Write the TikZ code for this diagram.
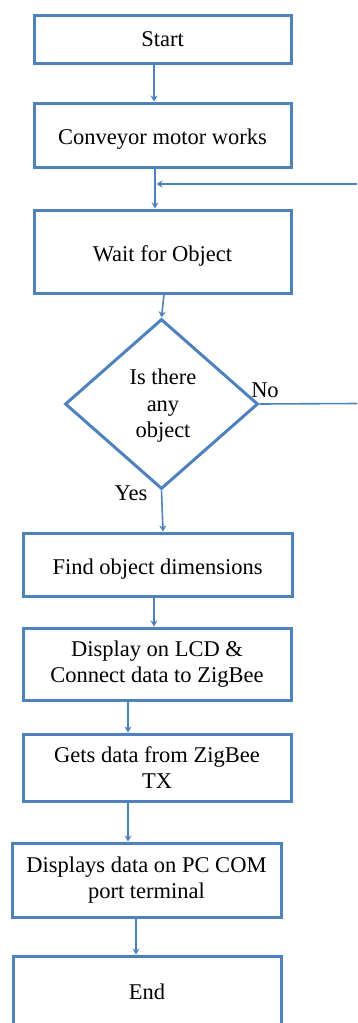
\documentclass[tikz,border=0pt]{standalone}
\usepackage{fontspec}
\setmainfont{Liberation Serif}
\usetikzlibrary{arrows.meta,shapes.geometric}
\definecolor{flowblue}{RGB}{79,129,189}
\begin{document}
\begin{tikzpicture}[x=1pt,y=-1pt,
  every node/.style={font=\fontsize{22.5}{26.5}\selectfont, text=black},
  stepbox/.style={draw=flowblue, line width=3pt, fill=white, align=center,
    inner sep=0pt, minimum width=#1},
  stepbox/.default=257pt,
  lowtext/.style={text height=20pt, text depth=1pt},
  decision/.style={draw=flowblue, line width=3pt, diamond,
    inner sep=0pt, minimum width=193pt, minimum height=170pt},
  flow/.style={draw=flowblue, line width=1.6pt, -{Stealth[length=6pt,width=7pt]}},
  plain/.style={draw=flowblue, line width=1.6pt}]
\useasboundingbox (0,0) rectangle (357,1023);
\clip (0,0) rectangle (357,1023);

% process boxes
\node[stepbox, minimum height=48pt] (start) at (162.5,39) {Start};
\node[stepbox, lowtext, minimum height=64pt] (conv) at (162.5,135) {Conveyor motor works};
\node[stepbox, lowtext, minimum height=83pt] (wait) at (162.5,251.5) {Wait for Object};
\node[decision] (obj) at (161.5,404) {};
\node (objtext) at (163,406) [align=center] {Is there\\any\\object};
\node[stepbox=269pt, lowtext, minimum height=63pt] (find) at (157.5,564.5) {Find object dimensions};
\node[stepbox=268pt, minimum height=72pt] (lcd) at (157,664) {Display on LCD \&\\Connect data to ZigBee};
\node[stepbox=268pt, minimum height=67pt] (gets) at (157,767.5) {Gets data from ZigBee\\TX};
\node[stepbox=269pt, minimum height=74pt] (pc) at (146.5,880) {Displays data on PC COM\\port terminal};
\node[stepbox=268pt, minimum height=72pt] (end) at (147,992) {End};

% branch labels
\node (no) at (265,390) {No};
\node (yes) at (131,493) {Yes};

% connectors
\coordinate (loopin) at (357,184);
\coordinate (loopout) at (357,403.5);
\draw[flow] ([xshift=-8.5pt]start.south) -- ([xshift=-8.5pt]conv.north);
\draw[flow] ([xshift=-7.5pt]conv.south) -- ([xshift=-7.5pt]wait.north);
\draw[flow] ([xshift=1.5pt]wait.south) -- (obj.north);
\draw[flow] (obj.south) -- ([xshift=5.5pt]find.north);
\draw[flow] ([xshift=-3.5pt]find.south) -- ([xshift=-3pt]lcd.north);
\draw[flow] ([xshift=-29pt]lcd.south) -- ([xshift=-29pt]gets.north);
\draw[flow] ([xshift=-29pt]gets.south) -- ([xshift=-18.5pt]pc.north);
\draw[flow] ([xshift=-10.5pt]pc.south) -- ([xshift=-11pt]end.north);
\draw[plain] (obj.east) -- (loopout);
\draw[flow] (loopin) -- ([xshift=-6pt]conv.south |- loopin);
\end{tikzpicture}
\end{document}
